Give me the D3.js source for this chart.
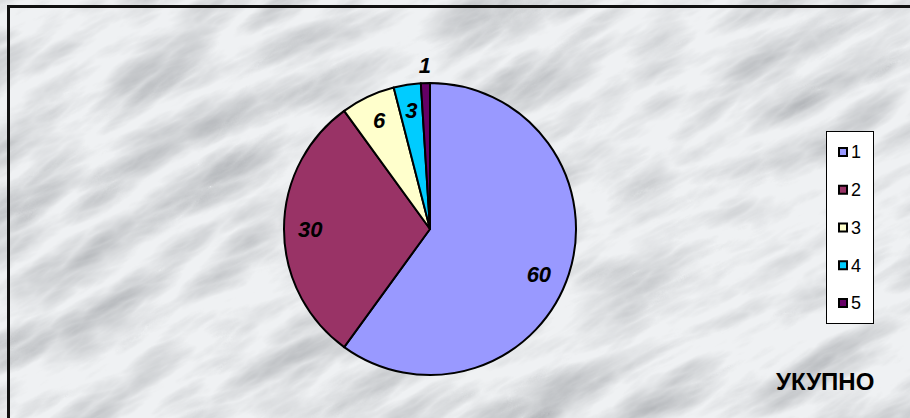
<!DOCTYPE html>
<html><head><meta charset="utf-8">
<script src="https://cdn.jsdelivr.net/npm/d3@7"></script>
<style>html,body{margin:0;padding:0;background:#fff;}svg{display:block;}</style>
</head><body>
<svg id="c" width="910" height="418"></svg>
<script>
const categories = ["1","2","3","4","5"];
const values = [60, 30, 6, 3, 1];
const labels = ["60","30","6","3","1"];
const colors = ["#9999FF","#993366","#FFFFCC","#00CCFF","#660066"];
const title = "УКУПНО";

const svg = d3.select("#c");
const defs = svg.append("defs");
const clip = defs.append("clipPath").attr("id","cl");
clip.append("rect").attr("width",910).attr("height",418);
const f = defs.append("filter").attr("id","marble").attr("filterUnits","userSpaceOnUse")
  .attr("x",-400).attr("y",-400).attr("width",1800).attr("height",1300);
f.append("feTurbulence").attr("type","turbulence").attr("baseFrequency","0.006 0.02").attr("numOctaves",5).attr("seed",11).attr("result","n");
f.append("feColorMatrix").attr("in","n").attr("type","matrix")
  .attr("values","0 0 0 0 0  0 0 0 0 0  0 0 0 0 0  1.0 0 0 0 -0.18").attr("result","a");
f.append("feFlood").attr("flood-color","#868a90").attr("result","g");
f.append("feComposite").attr("in","g").attr("in2","a").attr("operator","in").attr("result","gg");
f.append("feFlood").attr("flood-color","#eff1f3").attr("result","base");
f.append("feMerge").selectAll("feMergeNode").data(["base","gg"]).join("feMergeNode").attr("in",d=>d);

svg.append("g").attr("clip-path","url(#cl)")
  .append("rect").attr("x",-400).attr("y",-400).attr("width",1800).attr("height",1300)
  .attr("transform","rotate(-28 455 209)").attr("filter","url(#marble)");
// top & left border
svg.append("path").attr("d","M8.5,418 V6.5 H910").attr("fill","none").attr("stroke","#111").attr("stroke-width",3);

const cx = 430, cy = 229, r = 146;
const pie = d3.pie().sort(null).value(d=>d)(values);
const arc = d3.arc().innerRadius(0).outerRadius(r);
const g = svg.append("g").attr("transform",`translate(${cx},${cy})`);
g.selectAll("path").data(pie).join("path")
  .attr("d",arc).attr("fill",(d,i)=>colors[i]).attr("stroke","#000").attr("stroke-width",2).attr("stroke-linejoin","round");

const labArc = d3.arc().innerRadius(r*0.82).outerRadius(r*0.82);
const outArc = d3.arc().innerRadius(r*1.12).outerRadius(r*1.12);
g.selectAll("text").data(pie).join("text")
  .attr("transform",(d,i)=>{
    let p = (i===4 ? outArc : labArc).centroid(d);
    if (i===0) p = [p[0]-5, p[1]];
    return `translate(${p[0]},${p[1]})`;
  })
  .attr("text-anchor","middle").attr("dy",(d,i)=>i===0 ? "0.75em" : "0.35em")
  .attr("font-family","'Liberation Sans', Arial, sans-serif").attr("font-weight","bold").attr("font-style","italic")
  .attr("font-size",22).attr("fill","#000")
  .text((d,i)=>labels[i]);

// legend
const lg = svg.append("g");
lg.append("rect").attr("x",826.5).attr("y",131.5).attr("width",47).attr("height",192).attr("fill","#fff").attr("stroke","#000").attr("stroke-width",1);
const ly = d3.scalePoint().domain(categories).range([152,303]);
const items = lg.selectAll("g.it").data(categories).join("g").attr("class","it")
  .attr("transform",d=>`translate(0,${ly(d)})`);
items.append("rect").attr("x",839).attr("y",-4).attr("width",8).attr("height",8)
  .attr("fill",(d,i)=>colors[i]).attr("stroke","#000").attr("stroke-width",2);
items.append("text").attr("x",851).attr("y",0).attr("dy","0.36em")
  .attr("font-family","'Liberation Sans', Arial, sans-serif").attr("font-size",18).text(d=>d);

svg.append("text").attr("x",776).attr("y",390)
  .attr("font-family","'Liberation Sans', Arial, sans-serif").attr("font-weight","bold").attr("font-size",24).text(title);
</script>
</body></html>
